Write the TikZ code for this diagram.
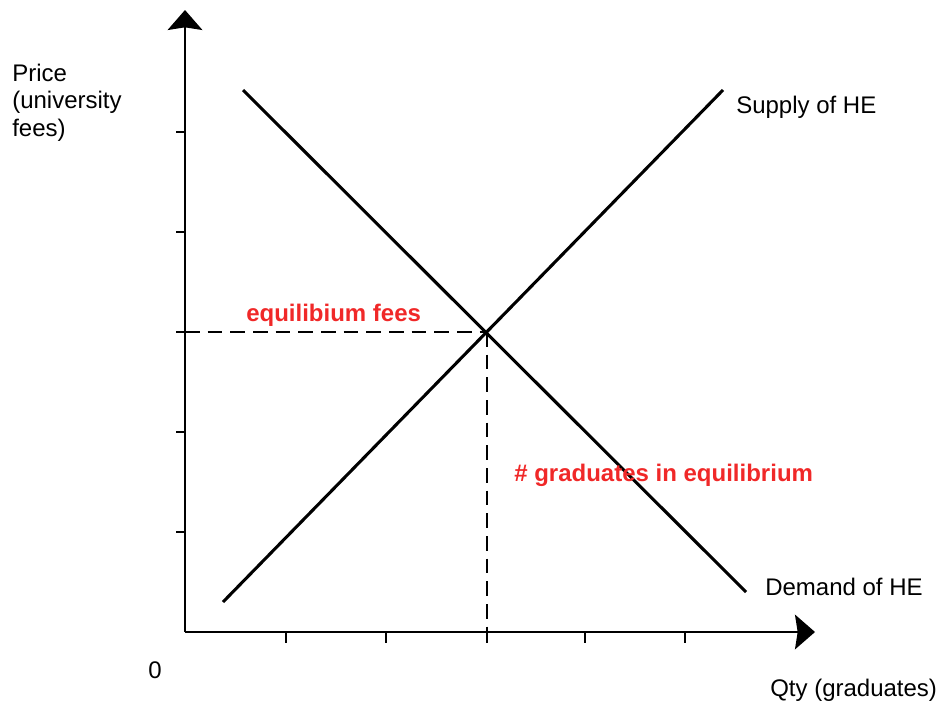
\documentclass[tikz,border=0pt]{standalone}
\usepackage{fontspec}
\setmainfont{Liberation Sans}
\usetikzlibrary{arrows.meta,positioning}
\definecolor{eqRed}{HTML}{F02828}
\tikzset{
  axisline/.style={line width=1.6pt, -{Stealth[length=15pt, width=26pt, inset=2pt]}},
  curveline/.style={line width=2.3pt},
  guideline/.style={line width=1.1pt, dash pattern=on 11pt off 6pt},
  tickmark/.style={line width=1.4pt},
  lbl/.style={font=\fontsize{18}{20.5}\selectfont, inner sep=0pt, align=left},
  eqlbl/.style={font=\fontsize{18}{21}\selectfont\bfseries, text=eqRed, inner sep=0pt}
}
\begin{document}
\begin{tikzpicture}[x=0.75pt, y=-0.75pt]
  \useasboundingbox (0,0) rectangle (938,707);
  % axes
  \coordinate (origin) at (185,632);
  \coordinate (ytop) at (185,10);
  \coordinate (xend) at (815,632);
  \draw[axisline] (origin) -- (ytop);
  \draw[axisline] (origin) -- (xend);
  \foreach \y in {132,232,332,432,532} \draw[tickmark] (185,\y) -- (176,\y);
  \foreach \x in {286,386,487,585,685} \draw[tickmark] (\x,632) -- (\x,643);
  % supply and demand
  \coordinate (dtop) at (243,90);
  \coordinate (dbot) at (746,592);
  \coordinate (sbot) at (223,602);
  \coordinate (stop) at (723,90);
  \coordinate (eq) at (487,332);
  \draw[curveline] (dtop) -- (dbot);
  \draw[curveline] (sbot) -- (stop);
  % equilibrium guides
  \coordinate (eqy) at (185,332);
  \coordinate (eqx) at (487,632);
  \draw[guideline] (eqy) -- (eq);
  \draw[guideline] (eq) -- (eqx);
  % labels
  \node[lbl, anchor=north west] (price) at (12,64) {Price\\(university\\fees)};
  \node[lbl, anchor=base west] (zero) at (148,678) {0};
  \node[lbl, anchor=base west] (qty) at (770,696) {Qty (graduates)};
  \node[lbl, anchor=base west] (supply) at (736,113) {Supply of HE};
  \node[lbl, anchor=base west] (demand) at (765,595) {Demand of HE};
  \node[eqlbl, anchor=base west] (eqfees) at (246,321) {equilibium fees};
  \node[eqlbl, anchor=base west] (eqgrads) at (514,481) {\# graduates in equilibrium};
\end{tikzpicture}
\end{document}
